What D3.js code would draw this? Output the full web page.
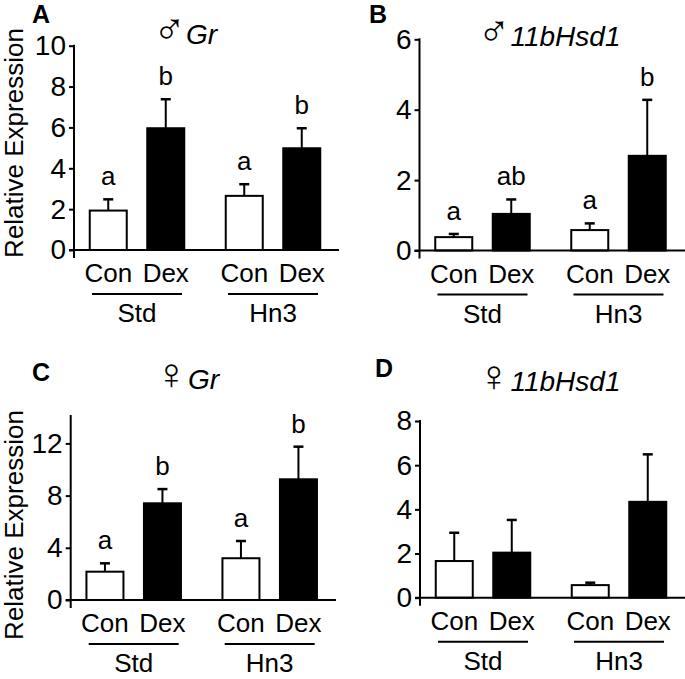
<!DOCTYPE html>
<html><head><meta charset="utf-8">
<script src="https://cdn.jsdelivr.net/npm/d3@7"></script>
<style>
html,body{margin:0;padding:0;background:#fff;}
svg{display:block;}
text{font-family:"Liberation Sans",Arial,sans-serif;fill:#000;}
</style></head>
<body>
<svg id="chart" width="685" height="679"></svg>
<script>
// ---- data ----
const diets = ["Std", "Hn3"];
const treatments = ["Con", "Dex"];

const maleGrMean = [1.93, 5.96, 2.65, 4.98];
const maleGrSem  = [0.55, 1.42, 0.57, 0.98];
const maleGrLetters = ["a", "b", "a", "b"];
const maleGrTicks = [0, 2, 4, 6, 8, 10];

const maleHsdMean = [0.38, 1.04, 0.58, 2.69];
const maleHsdSem  = [0.09, 0.41, 0.19, 1.59];
const maleHsdLetters = ["a", "ab", "a", "b"];
const maleHsdTicks = [0, 2, 4, 6];

const femaleGrMean = [2.17, 7.41, 3.20, 9.25];
const femaleGrSem  = [0.64, 1.09, 1.32, 2.50];
const femaleGrLetters = ["a", "b", "a", "b"];
const femaleGrTicks = [0, 4, 8, 12];

const femaleHsdMean = [1.66, 2.04, 0.57, 4.34];
const femaleHsdSem  = [1.28, 1.48, 0.11, 2.15];
const femaleHsdLetters = ["", "", "", ""];
const femaleHsdTicks = [0, 2, 4, 6, 8];

const panelLetters = ["A", "B", "C", "D"];
const sexSymbols = ["\u2642", "\u2642", "\u2640", "\u2640"];
const genes = ["Gr", "11bHsd1", "Gr", "11bHsd1"];
const yLabel = "Relative Expression";

// ---- layout ----
const panels = [
  {mean: maleGrMean, sem: maleGrSem, letters: maleGrLetters, ticks: maleGrTicks, yMax: 10,
   ax: 74, y0: 250, yTop: 45.7, xEnd: 339, titleX: 185, titleY: 44, lx: 32, ly: 23, showY: true, ylabY: 143},
  {mean: maleHsdMean, sem: maleHsdSem, letters: maleHsdLetters, ticks: maleHsdTicks, yMax: 6,
   ax: 419.5, y0: 250.5, yTop: 39.3, xEnd: 685, titleX: 549, titleY: 46, lx: 369, ly: 23, showY: false},
  {mean: femaleGrMean, sem: femaleGrSem, letters: femaleGrLetters, ticks: femaleGrTicks, yMax: 14.1,
   ax: 70.7, y0: 600, yTop: 416, xEnd: 336, titleX: 187, titleY: 389, lx: 32, ly: 381, showY: true, ylabY: 525},
  {mean: femaleHsdMean, sem: femaleHsdSem, letters: femaleHsdLetters, ticks: femaleHsdTicks, yMax: 8,
   ax: 420, y0: 597.7, yTop: 421, xEnd: 685, titleX: 549, titleY: 391, lx: 375, ly: 377, showY: false}
];

const svg = d3.select("#chart");

panels.forEach((p, pi) => {
  const g = svg.append("g");
  const y = d3.scaleLinear().domain([0, p.yMax]).range([p.y0, p.yTop]);
  const xGroup = d3.scalePoint().domain(diets).range([p.ax + 63, p.ax + 199]);
  const xTreat = d3.scalePoint().domain(treatments).range([-28.75, 28.75]);
  const barW = 37;

  const rows = [];
  diets.forEach((d, di) => treatments.forEach((t, ti) => {
    const i = di * 2 + ti;
    rows.push({diet: d, treat: t, mean: p.mean[i], sem: p.sem[i], letter: p.letters[i]});
  }));
  const cx = r => xGroup(r.diet) + xTreat(r.treat);

  // bars
  g.selectAll("rect.bar").data(rows).join("rect")
    .attr("x", r => cx(r) - barW / 2)
    .attr("y", r => y(r.mean))
    .attr("width", barW)
    .attr("height", r => y(0) - y(r.mean))
    .attr("fill", r => r.treat === "Dex" ? "#000" : "#fff")
    .attr("stroke", "#000").attr("stroke-width", 2);

  // error bars
  g.selectAll("line.err").data(rows).join("line")
    .attr("x1", cx).attr("x2", cx)
    .attr("y1", r => y(r.mean)).attr("y2", r => y(r.mean + r.sem))
    .attr("stroke", "#000").attr("stroke-width", 2);
  g.selectAll("line.cap").data(rows).join("line")
    .attr("x1", r => cx(r) - 5).attr("x2", r => cx(r) + 5)
    .attr("y1", r => y(r.mean + r.sem)).attr("y2", r => y(r.mean + r.sem))
    .attr("stroke", "#000").attr("stroke-width", 2.5);

  // significance letters
  g.selectAll("text.sig").data(rows.filter(r => r.letter)).join("text")
    .attr("x", cx).attr("y", r => y(r.mean + r.sem) - 14)
    .attr("text-anchor", "middle").attr("font-size", 26).text(r => r.letter);

  // y axis
  const axis = d3.axisLeft(y).tickValues(p.ticks).tickSize(5).tickPadding(3).tickFormat(d3.format("d"));
  const ag = g.append("g").attr("transform", `translate(${p.ax},0)`).call(axis);
  ag.select(".domain").remove();
  ag.selectAll(".tick line").attr("stroke", "#000").attr("stroke-width", 2);
  ag.selectAll(".tick text").attr("font-size", 28).attr("font-family", "Liberation Sans, Arial, sans-serif").attr("fill", "#000");
  g.append("line").attr("x1", p.ax).attr("x2", p.ax).attr("y1", p.yTop - 1).attr("y2", p.y0 + 8)
    .attr("stroke", "#000").attr("stroke-width", 2);
  // x axis
  g.append("line").attr("x1", p.ax - 5).attr("x2", p.xEnd).attr("y1", p.y0).attr("y2", p.y0)
    .attr("stroke", "#000").attr("stroke-width", 2);

  // treatment labels
  g.selectAll("text.tl").data(rows).join("text")
    .attr("x", cx).attr("y", p.y0 + 32)
    .attr("text-anchor", "middle").attr("font-size", 26).text(r => r.treat);

  // group underline + labels
  diets.forEach(d => {
    g.append("line").attr("x1", xGroup(d) - 45).attr("x2", xGroup(d) + 45)
      .attr("y1", p.y0 + 44).attr("y2", p.y0 + 44).attr("stroke", "#000").attr("stroke-width", 2);
    g.append("text").attr("x", xGroup(d)).attr("y", p.y0 + 72)
      .attr("text-anchor", "middle").attr("font-size", 26).text(d);
  });

  // title
  const t = g.append("text").attr("x", p.titleX).attr("y", p.titleY).attr("text-anchor", "middle").attr("font-size", 28);
  t.append("tspan").attr("font-family", "DejaVu Sans, sans-serif").attr("font-weight", 200).attr("font-size", 44).text(sexSymbols[pi]);
  t.append("tspan").attr("font-style", "italic").text(genes[pi]);

  // panel letter
  g.append("text").attr("x", p.lx).attr("y", p.ly).attr("font-size", 25).attr("font-weight", "bold").text(panelLetters[pi]);

  // y label
  if (p.showY) {
    g.append("text").attr("transform", `translate(23,${p.ylabY}) rotate(-90)`)
      .attr("text-anchor", "middle").attr("font-size", 26).text(yLabel);
  }
});
</script>
</body></html>
